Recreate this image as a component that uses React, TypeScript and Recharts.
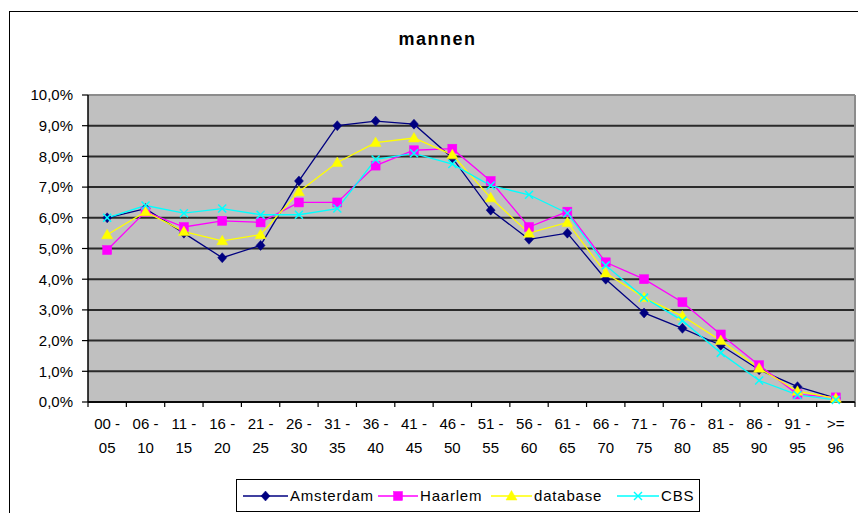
import React from 'react';
import { LineChart, Line, XAxis, YAxis, CartesianGrid, Legend } from 'recharts';

const categories = ['00 - 05', '06 - 10', '11 - 15', '16 - 20', '21 - 25', '26 - 30', '31 - 35', '36 - 40', '41 - 45', '46 - 50', '51 - 55', '56 - 60', '61 - 65', '66 - 70', '71 - 75', '76 - 80', '81 - 85', '86 - 90', '91 - 95', '>= 96'];
const amsterdam = [6.0, 6.3, 5.5, 4.7, 5.1, 7.2, 9.0, 9.15, 9.05, 7.95, 6.25, 5.3, 5.5, 4.0, 2.9, 2.4, 1.85, 1.05, 0.5, 0.13];
const haarlem = [4.95, 6.2, 5.7, 5.9, 5.85, 6.5, 6.5, 7.7, 8.2, 8.25, 7.2, 5.7, 6.2, 4.55, 4.0, 3.25, 2.2, 1.2, 0.25, 0.15];
const database = [5.45, 6.2, 5.55, 5.25, 5.45, 6.85, 7.8, 8.45, 8.6, 8.05, 6.65, 5.5, 5.85, 4.2, 3.4, 2.8, 2.0, 1.1, 0.35, 0.12];
const cbs = [6.0, 6.4, 6.15, 6.3, 6.1, 6.1, 6.3, 7.9, 8.1, 7.75, 7.05, 6.75, 6.15, 4.45, 3.4, 2.65, 1.6, 0.7, 0.23, 0.07];
const yTicks = [0, 1, 2, 3, 4, 5, 6, 7, 8, 9, 10];
const title = 'mannen';

const data = categories.map((c, i) => ({
  cat: c,
  Amsterdam: amsterdam[i],
  Haarlem: haarlem[i],
  database: database[i],
  CBS: cbs[i],
}));

const FONT = 'Arial, "Liberation Sans", sans-serif';
const CHART_W = 858;
const CHART_H = 513;
const MARGIN = { top: 95, right: 3, left: 0, bottom: 51 };
const Y_W = 88;
const X_H = 60;
const PLOT_W = CHART_W - MARGIN.left - MARGIN.right - Y_W;
const HALF_BAND = PLOT_W / categories.length / 2;

const NAVY = '#000080';
const MAGENTA = '#FF00FF';
const YELLOW = '#FFFF00';
const CYAN = '#00FFFF';

type Marker = 'diamond' | 'square' | 'triangle' | 'x';

function markerShape(kind: Marker, cx: number, cy: number, color: string, key?: string) {
  if (kind === 'diamond') {
    return <path key={key} d={`M${cx},${cy - 5} L${cx + 4.5},${cy} L${cx},${cy + 5} L${cx - 4.5},${cy} Z`} fill={color} stroke={color} strokeWidth={0.5} />;
  }
  if (kind === 'square') {
    return <rect key={key} x={cx - 4.5} y={cy - 4.5} width={9} height={9} fill={color} stroke={color} strokeWidth={0.5} />;
  }
  if (kind === 'triangle') {
    return <path key={key} d={`M${cx},${cy - 5.5} L${cx + 5.5},${cy + 4} L${cx - 5.5},${cy + 4} Z`} fill={color} stroke={color} strokeWidth={0.5} />;
  }
  return (
    <g key={key}>
      <line x1={cx - 4} y1={cy - 4} x2={cx + 4} y2={cy + 4} stroke={color} strokeWidth={1.5} />
      <line x1={cx - 4} y1={cy + 4} x2={cx + 4} y2={cy - 4} stroke={color} strokeWidth={1.5} />
    </g>
  );
}

const series: { key: string; color: string; marker: Marker }[] = [
  { key: 'Amsterdam', color: NAVY, marker: 'diamond' },
  { key: 'Haarlem', color: MAGENTA, marker: 'square' },
  { key: 'database', color: YELLOW, marker: 'triangle' },
  { key: 'CBS', color: CYAN, marker: 'x' },
];

const legendIconX = [6, 141, 254, 380];
const legendIconW = [45, 40, 41, 42];

const XTick = (props: any) => {
  const { x, y, payload, index } = props;
  const label: string = String(payload.value);
  const sp = label.lastIndexOf(' ');
  const l1 = label.slice(0, sp);
  const l2 = label.slice(sp + 1);
  return (
    <g>
      <line x1={x - HALF_BAND} x2={x - HALF_BAND} y1={y} y2={y + 5} stroke="#000" strokeWidth={1.2} />
      {index === categories.length - 1 && (
        <line x1={x + HALF_BAND} x2={x + HALF_BAND} y1={y} y2={y + 5} stroke="#000" strokeWidth={1.2} />
      )}
      <text x={x} y={y + 27} textAnchor="middle" fontSize={15} fontFamily={FONT} fill="#000">{l1}</text>
      <text x={x} y={y + 51} textAnchor="middle" fontSize={15} fontFamily={FONT} fill="#000">{l2}</text>
    </g>
  );
};

const LegendBox = () => (
  <div style={{ position: 'relative', width: 464, height: 33, border: '1px solid #000', boxSizing: 'border-box', background: '#fff', fontFamily: FONT }}>
    {series.map((s, i) => (
      <div key={s.key} style={{ position: 'absolute', left: legendIconX[i], top: 0, height: 31, display: 'flex', alignItems: 'center' }}>
        <svg width={legendIconW[i]} height={14} style={{ display: 'block' }}>
          <line x1={0} x2={legendIconW[i]} y1={7} y2={7} stroke={s.color} strokeWidth={1.5} />
          {markerShape(s.marker, legendIconW[i] / 2, 7, s.color)}
        </svg>
        <span style={{ marginLeft: 2, fontSize: 15, letterSpacing: 0.8, color: '#000', whiteSpace: 'nowrap' }}>{s.key}</span>
      </div>
    ))}
  </div>
);

const fmt = (v: number) => `${v.toFixed(1).replace('.', ',')}%`;

export default function App() {
  return (
    <div style={{ position: 'absolute', left: 0, top: 0, width: CHART_W, height: CHART_H, overflow: 'hidden', background: '#fff', fontFamily: FONT }}>
      <div style={{ position: 'absolute', left: 9, top: 11, width: 880, height: 540, border: '1px solid #000' }} />
      <div style={{ position: 'absolute', left: 0, top: 29, width: 875, textAlign: 'center', fontWeight: 'bold', fontSize: 18, lineHeight: '20px', letterSpacing: 1.5, color: '#000' }}>{title}</div>
      <div style={{ position: 'absolute', left: 0, top: 0 }}>
        <LineChart width={CHART_W} height={CHART_H} data={data} margin={MARGIN}>
          <CartesianGrid vertical={false} fill="#C0C0C0" fillOpacity={1} stroke="#2a2a2a" strokeWidth={2} />
          <CartesianGrid
            fill="none"
            stroke="#8c8c8c"
            strokeWidth={2}
            horizontalCoordinatesGenerator={({ offset }: any) => [offset.top]}
            verticalCoordinatesGenerator={({ offset }: any) => [offset.left + offset.width]}
          />
          <XAxis
            dataKey="cat"
            scale="band"
            interval={0}
            height={X_H}
            tickLine={false}
            tickSize={0}
            tickMargin={0}
            axisLine={{ stroke: '#000', strokeWidth: 1.5 }}
            tick={<XTick />}
          />
          <YAxis
            type="number"
            domain={[0, 10]}
            ticks={yTicks}
            interval={0}
            width={Y_W}
            tickSize={6}
            tickMargin={9}
            tickFormatter={fmt}
            axisLine={{ stroke: '#000', strokeWidth: 1.5 }}
            tickLine={{ stroke: '#000', strokeWidth: 1.2 }}
            tick={{ fontSize: 15, fontFamily: FONT, fill: '#000' }}
          />
          <Legend
            layout="horizontal"
            verticalAlign="middle"
            align="center"
            wrapperStyle={{ top: 479, left: 236, width: 464, height: 33 }}
            content={() => <LegendBox />}
          />
          {series.map((s) => (
            <Line
              key={s.key}
              type="linear"
              dataKey={s.key}
              stroke={s.color}
              strokeWidth={1.3}
              isAnimationActive={false}
              activeDot={false}
              dot={(p: any) => markerShape(s.marker, p.cx, p.cy, s.color, `${s.key}-${p.index}`)}
            />
          ))}
        </LineChart>
      </div>
    </div>
  );
}
